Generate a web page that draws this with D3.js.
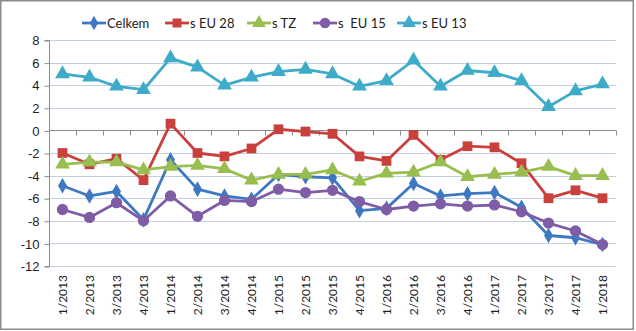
<!DOCTYPE html>
<html>
<head>
<meta charset="utf-8">
<script src="https://cdn.jsdelivr.net/npm/d3@7/dist/d3.min.js"></script>
<style>
  html, body { margin: 0; padding: 0; background: #fff; }
  svg { display: block; font-family: Lato, "Open Sans", sans-serif; }
</style>
</head>
<body>
<svg id="chart" width="636" height="331"></svg>
<script>
// Quarter labels
const categories = ["1/2013","2/2013","3/2013","4/2013","1/2014","2/2014","3/2014","4/2014",
  "1/2015","2/2015","3/2015","4/2015","1/2016","2/2016","3/2016","4/2016",
  "1/2017","2/2017","3/2017","4/2017","1/2018"];

// Series values
const celkem = [-4.9,-5.8,-5.4,-7.9,-2.6,-5.2,-5.8,-6.1,-3.9,-4.1,-4.2,-7.1,-6.9,-4.7,-5.8,-5.6,-5.5,-6.8,-9.3,-9.5,-10.1];
const sEU28  = [-2.0,-3.0,-2.5,-4.4,0.6,-2.0,-2.3,-1.6,0.1,-0.1,-0.3,-2.3,-2.7,-0.4,-2.6,-1.4,-1.5,-2.9,-6.0,-5.3,-6.0];
const sTZ    = [-3.0,-2.8,-2.8,-3.5,-3.2,-3.1,-3.4,-4.4,-3.9,-3.9,-3.5,-4.5,-3.8,-3.7,-2.8,-4.1,-3.9,-3.7,-3.2,-4.0,-4.0];
const sEU15  = [-7.0,-7.7,-6.4,-8.0,-5.8,-7.6,-6.2,-6.3,-5.2,-5.5,-5.3,-6.3,-7.0,-6.7,-6.5,-6.7,-6.6,-7.2,-8.2,-8.9,-10.1];
const sEU13  = [5.0,4.7,3.9,3.6,6.4,5.6,4.0,4.7,5.2,5.4,5.0,3.9,4.4,6.2,3.9,5.3,5.1,4.4,2.1,3.5,4.1];

const yTicks = [8,6,4,2,0,-2,-4,-6,-8,-10,-12];

const series = [
  { name: "Celkem",   values: celkem, color: "#3f78c2", symbol: "diamond" },
  { name: "s EU 28",  values: sEU28,  color: "#c9403c", symbol: "square" },
  { name: "s TZ",     values: sTZ,    color: "#98be4f", symbol: "triangle" },
  { name: "s  EU 15", values: sEU15,  color: "#7f5da6", symbol: "circle" },
  { name: "s EU 13",  values: sEU13,  color: "#3eacc8", symbol: "triangle" }
];

const svg = d3.select("#chart");

// outer frame
svg.append("rect").attr("x", 0.75).attr("y", 0.75).attr("width", 632.5).attr("height", 328.5)
  .attr("fill", "#fff").attr("stroke", "#8a8a8a").attr("stroke-width", 1.5);

const plot = { left: 49, right: 616, top: 40, bottom: 266 };

const x = d3.scaleBand().domain(categories).range([plot.left, plot.right]);
const y = d3.scaleLinear().domain([-12, 8]).range([plot.bottom, plot.top]);
const cx = d => x(d) + x.bandwidth() / 2;

// horizontal gridlines
svg.append("g").selectAll("line").data(yTicks).join("line")
  .attr("x1", plot.left).attr("x2", plot.right)
  .attr("y1", d => Math.round(y(d)) + 0.5).attr("y2", d => Math.round(y(d)) + 0.5)
  .attr("stroke", "#c3d0e4").attr("stroke-width", 1);

// y axis
const yAxis = d3.axisLeft(y).tickValues(yTicks).tickSize(5).tickPadding(5).tickFormat(d3.format("d"));
const gy = svg.append("g").attr("transform", `translate(${plot.left + 0.5},0.5)`).call(yAxis);
gy.select(".domain").attr("stroke", "#8c8c8c").attr("d", `M-5,${y(8)}H0V${y(-12)}H-5`);
gy.selectAll(".tick line").attr("stroke", "#8c8c8c");
gy.selectAll(".tick text").attr("font-size", 13).attr("fill", "#222")
  .text(d => d < 0 ? "-" + Math.abs(d) : d);

// category axis crossing at zero
const zeroY = Math.round(y(0)) + 0.5;
const bounds = categories.map(c => x(c)).concat([plot.right]);
const gx = svg.append("g");
gx.append("line").attr("x1", plot.left).attr("x2", plot.right).attr("y1", zeroY).attr("y2", zeroY)
  .attr("stroke", "#8c8c8c");
gx.selectAll("line.t").data(bounds).join("line").attr("class", "t")
  .attr("x1", d => Math.round(d) + 0.5).attr("x2", d => Math.round(d) + 0.5)
  .attr("y1", zeroY).attr("y2", zeroY + 5).attr("stroke", "#8c8c8c");

// rotated category labels below the plot
svg.append("g").selectAll("text").data(categories).join("text")
  .attr("transform", d => `translate(${cx(d) + 4.5},${plot.bottom + 9}) rotate(-90)`)
  .attr("text-anchor", "end").attr("font-size", 12).attr("fill", "#222")
  .text(d => d);

// series lines and markers
const line = d3.line().x((d, i) => cx(categories[i])).y(d => y(d));
const symbols = {
  diamond: d3.symbolDiamond, square: d3.symbolSquare,
  triangle: d3.symbolTriangle, circle: d3.symbolCircle
};
const symSize = { diamond: 70, square: 95, triangle: 95, circle: 100 };

series.forEach(s => {
  const g = svg.append("g");
  g.append("path").datum(s.values).attr("d", line)
    .attr("fill", "none").attr("stroke", s.color).attr("stroke-width", 2.8)
    .attr("stroke-linejoin", "round");
  g.selectAll("path.m").data(s.values).join("path").attr("class", "m")
    .attr("transform", (d, i) => `translate(${cx(categories[i])},${y(d)})`)
    .attr("d", d3.symbol().type(symbols[s.symbol]).size(symSize[s.symbol]))
    .attr("fill", s.color);
});

// legend
const legendX = [82, 165, 247, 313, 397];
const legend = svg.append("g");
series.forEach((s, i) => {
  const g = legend.append("g").attr("transform", `translate(${legendX[i]},23)`);
  g.append("line").attr("x1", 0).attr("x2", 24).attr("stroke", s.color).attr("stroke-width", 2.8);
  g.append("path").attr("transform", "translate(12,0)")
    .attr("d", d3.symbol().type(symbols[s.symbol]).size(symSize[s.symbol] * 0.85))
    .attr("fill", s.color);
  g.append("text").attr("x", 25).attr("y", 4.5).attr("font-size", 13).attr("fill", "#222")
    .attr("xml:space", "preserve").style("white-space", "pre").text(s.name);
});
</script>
</body>
</html>
